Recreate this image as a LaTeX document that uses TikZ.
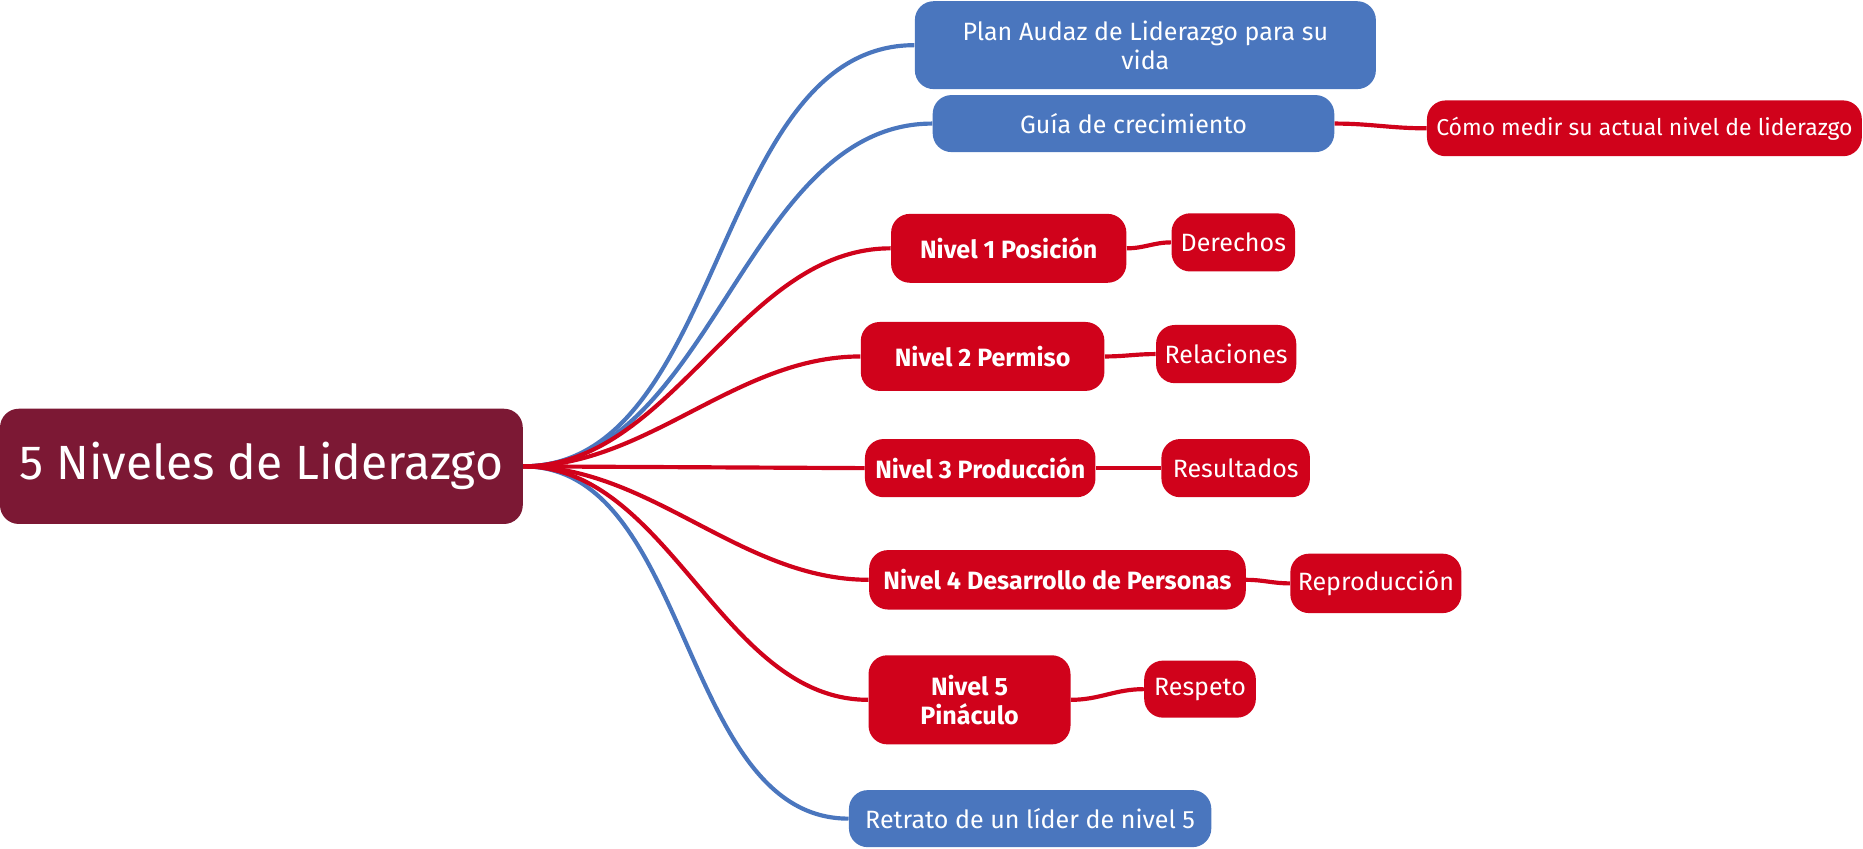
\documentclass[tikz,border=0pt]{standalone}
\usepackage{fontspec}
\setmainfont{Fira Sans}
\begin{document}
\begin{tikzpicture}[x=0.02cm,y=-0.02cm,
 box/.style={rounded corners=9pt,text=white,align=center,inner sep=0pt,font=\fontsize{12}{14}\selectfont},
 blu/.style={box,fill={rgb,255:red,74;green,118;blue,190}},
 rd/.style={box,fill={rgb,255:red,208;green,2;blue,27}},
 lv/.style={rd,font=\fontsize{12}{14}\selectfont\bfseries},
 bl/.style={draw={rgb,255:red,74;green,118;blue,190},line width=2pt},
 rl/.style={draw={rgb,255:red,208;green,2;blue,27},line width=2pt}]
\useasboundingbox (0,0) rectangle (1568,714);
\node[box,fill={rgb,255:red,124;green,24;blue,52},minimum width=440*0.02cm,minimum height=97*0.02cm,font=\fontsize{23}{26}\selectfont] (root) at (220,392.5) {5 Niveles de Liderazgo};
\node[blu,minimum width=388*0.02cm,minimum height=74*0.02cm] (plan) at (964,38) {Plan Audaz de Liderazgo para su\\vida};
\node[blu,minimum width=338*0.02cm,minimum height=48*0.02cm] (guia) at (954,104) {Guía de crecimiento};
\node[rd,minimum width=366*0.02cm,minimum height=47*0.02cm,font=\fontsize{11}{13}\selectfont] (como) at (1384,108) {Cómo medir su actual nivel de liderazgo};
\node[lv,minimum width=198*0.02cm,minimum height=58*0.02cm] (n1) at (849,209) {Nivel 1 Posición};
\node[rd,minimum width=104*0.02cm,minimum height=49*0.02cm] (d1) at (1038,204) {Derechos};
\node[lv,minimum width=205*0.02cm,minimum height=58*0.02cm] (n2) at (827,300) {Nivel 2 Permiso};
\node[rd,minimum width=118*0.02cm,minimum height=49*0.02cm] (d2) at (1032,298) {Relaciones};
\node[lv,minimum width=194*0.02cm,minimum height=49*0.02cm] (n3) at (825,394) {Nivel 3 Producción};
\node[rd,minimum width=125*0.02cm,minimum height=49*0.02cm] (d3) at (1040,394) {Resultados};
\node[lv,minimum width=317*0.02cm,minimum height=50*0.02cm] (n4) at (890,488) {Nivel 4 Desarrollo de Personas};
\node[rd,minimum width=144*0.02cm,minimum height=50*0.02cm] (d4) at (1158,491) {Reproducción};
\node[lv,minimum width=170*0.02cm,minimum height=75*0.02cm] (n5) at (816,589) {Nivel 5\\Pináculo};
\node[rd,minimum width=94*0.02cm,minimum height=48*0.02cm] (d5) at (1010,580) {Respeto};
\node[blu,minimum width=305*0.02cm,minimum height=48*0.02cm] (ret) at (867,689) {Retrato de un líder de nivel 5};
\draw[bl] (root.east) to[out=0,in=180,looseness=0.9] (plan.west);
\draw[bl] (root.east) to[out=0,in=180,looseness=0.9] (guia.west);
\draw[bl] (root.east) to[out=0,in=180,looseness=0.9] (ret.west);
\foreach \n in {n1,n2,n4,n5}{\draw[rl] (root.east) to[out=0,in=180,looseness=0.9] (\n.west);}
\draw[rl] (root.east) -- (n3.west);
\draw[rl] (guia.east) to[out=0,in=180] (como.west);
\foreach \a/\b in {n1/d1,n2/d2,n3/d3,n4/d4,n5/d5}{\draw[rl] (\a.east) to[out=0,in=180] (\b.west);}
\end{tikzpicture}
\end{document}
